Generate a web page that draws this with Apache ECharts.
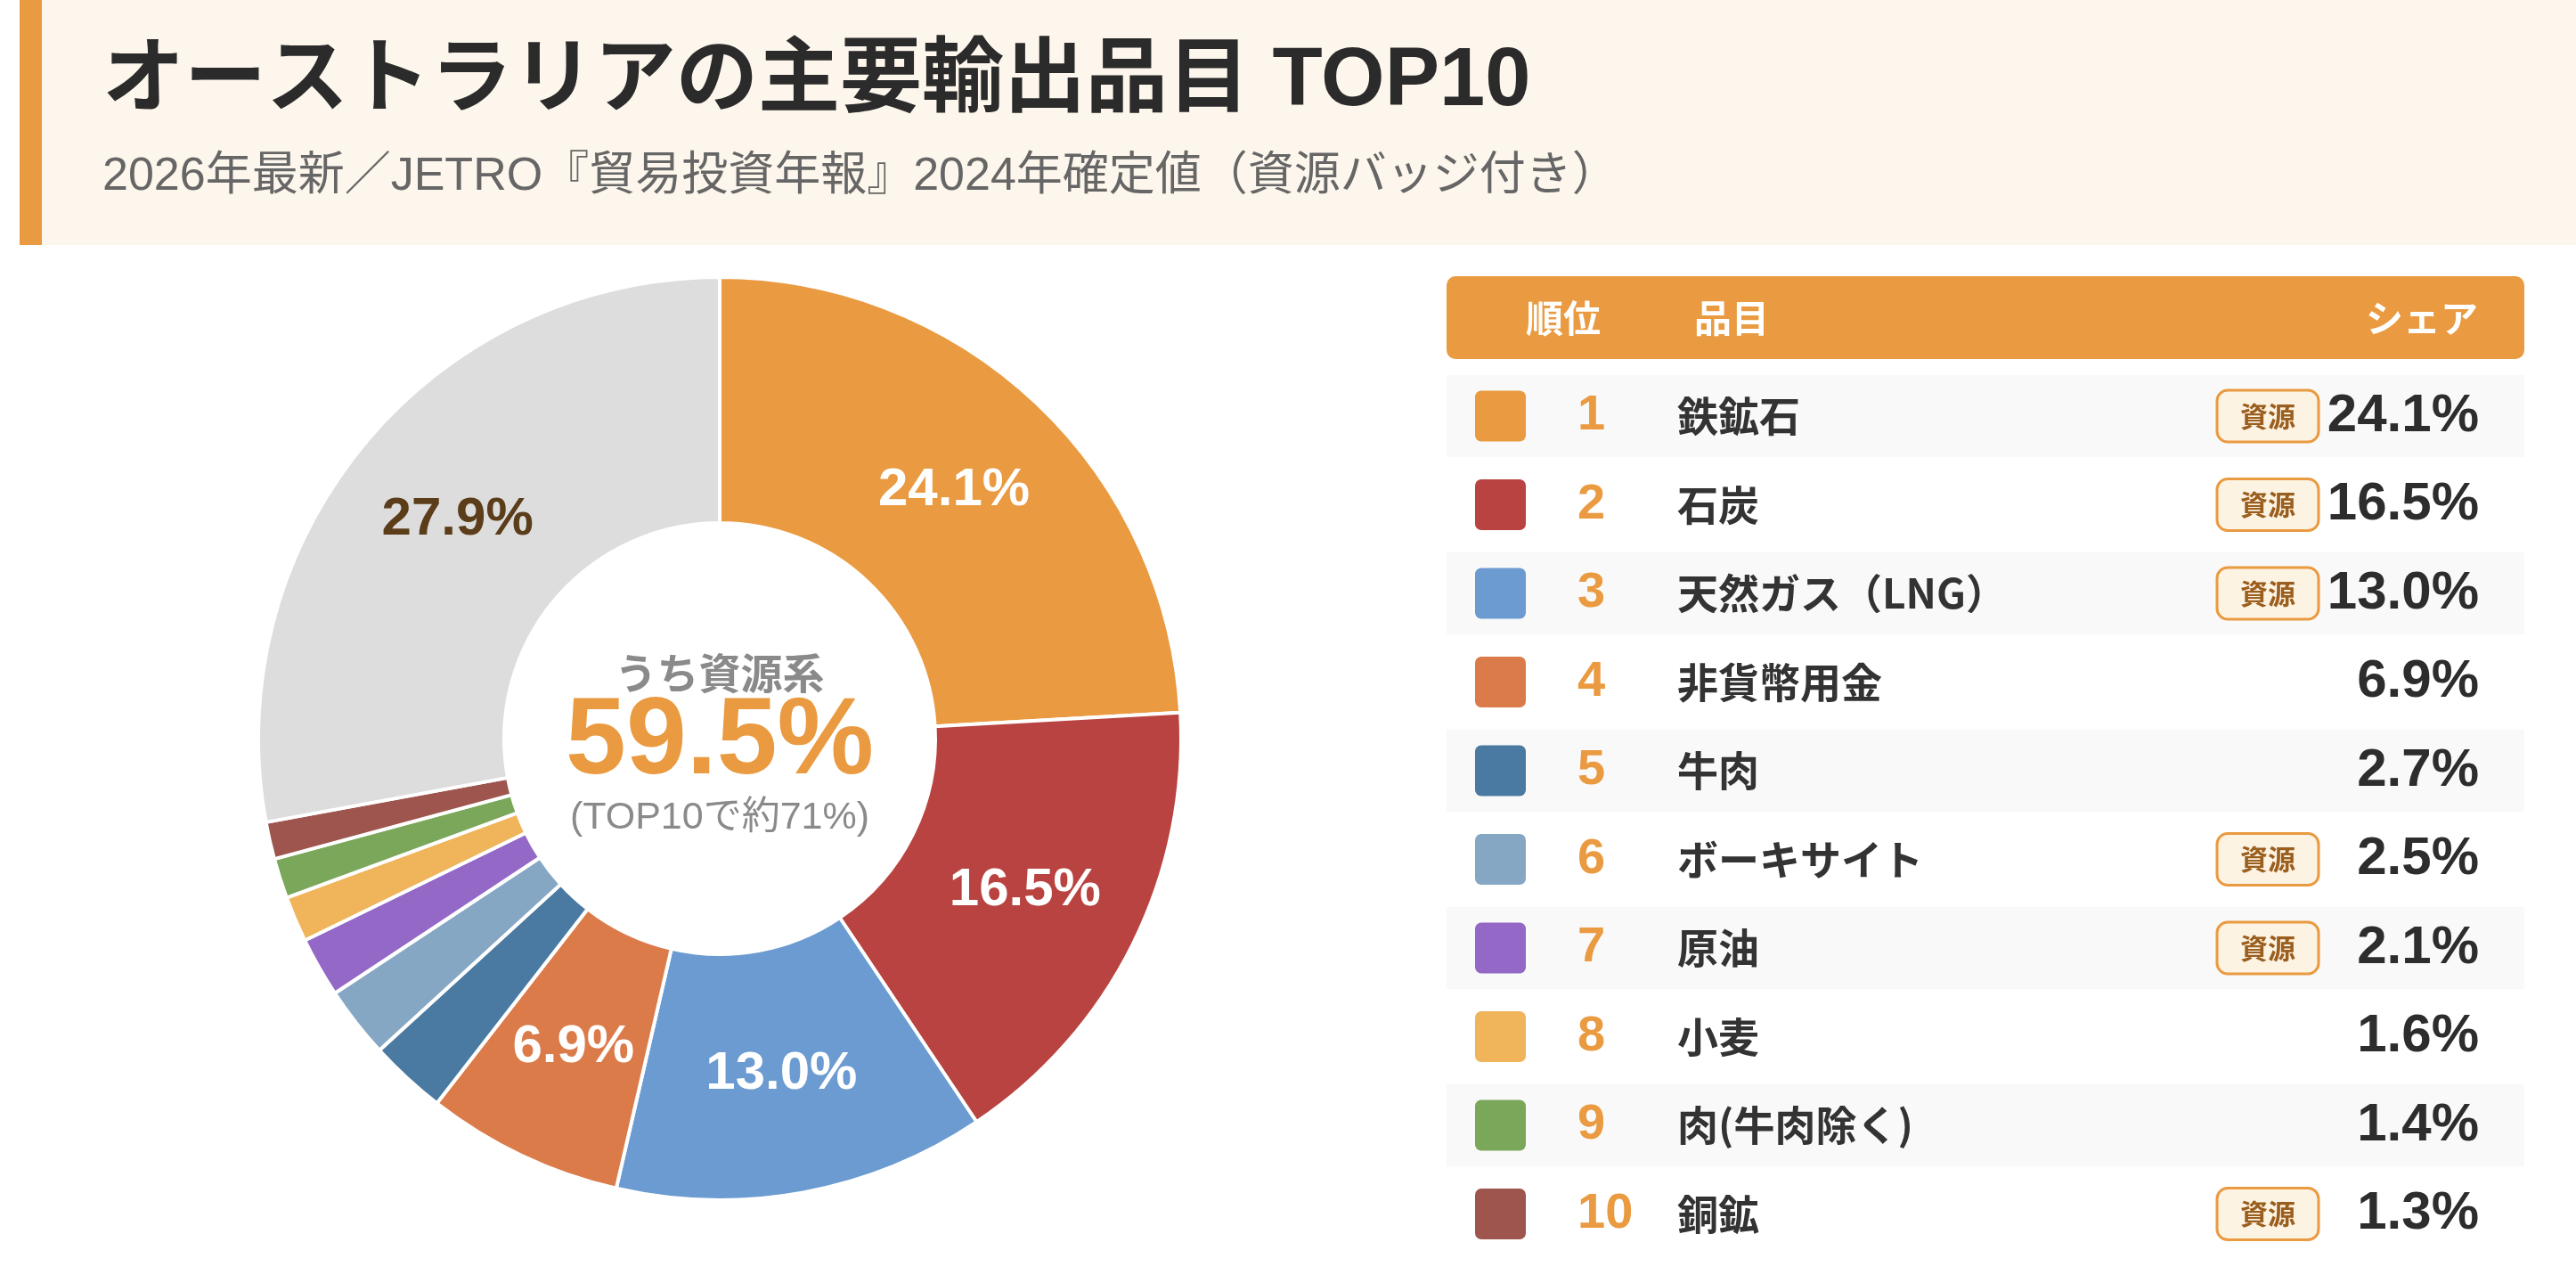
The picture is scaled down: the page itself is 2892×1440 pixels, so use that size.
<!DOCTYPE html>
<html>
<head>
    <meta charset="utf-8">
    <title>オーストラリアの主要輸出品目 TOP10</title>
    <script src="https://cdn.jsdelivr.net/npm/echarts@6/dist/echarts.min.js"></script>
    <style>
        html, body { margin: 0; padding: 0; background: #fff; }
    </style>
</head>
<body>
    <div id="container" style="width: 2892px;height:1440px;"></div>
    <script type="text/javascript">
        // データ（JETRO 2024年確定値）
        var categories = ['鉄鉱石', '石炭', '天然ガス（LNG）', '非貨幣用金', '牛肉', 'ボーキサイト', '原油', '小麦', '肉(牛肉除く)', '銅鉱', 'その他'];
        var shares = [24.1, 16.5, 13.0, 6.9, 2.7, 2.5, 2.1, 1.6, 1.4, 1.3, 27.9];
        var isResource = [true, true, true, false, false, true, true, false, false, true];
        var colors = ['#EA9A40', '#B94340', '#6B9BD1', '#DB7B4A', '#4A7AA2', '#86A7C4', '#9368C6', '#F0B45A', '#7BA75A', '#9E554D', '#DDDDDD'];
        var headerLabels = ['順位', '品目', 'シェア'];
        var centerTexts = ['うち資源系', '59.5%', '(TOP10で約71%)'];
        var titleText = 'オーストラリアの主要輸出品目 TOP10';
        var subText = '2026年最新／JETRO『貿易投資年報』2024年確定値（資源バッジ付き）';

        var JP = '"Noto Sans CJK JP", sans-serif';
        var MIX = '"Liberation Sans", "Noto Sans CJK JP", sans-serif';   // 英数字はLiberation、和文はNoto
        var NUM = '"Liberation Sans", Arial, sans-serif';
        var ORANGE = '#EA9A40';

        var myChart = echarts.init(document.getElementById('container'));

        var pieData = categories.map(function (name, i) {
            var item = { name: name, value: shares[i], itemStyle: { color: colors[i] } };
            if (i === categories.length - 1) {
                item.label = { color: '#5B3D1A' };
            }
            return item;
        });

        // ヘッダー帯と表は graphic で組む
        var graphics = [
            { type: 'rect', shape: { x: 22, y: 0, width: 2870, height: 275 }, style: { fill: '#FDF6EC' }, silent: true },
            { type: 'rect', shape: { x: 22, y: 0, width: 25, height: 275 }, style: { fill: ORANGE }, silent: true },
            { type: 'text', style: { text: titleText, x: 115, y: 93, font: 'bold 92px ' + MIX, fill: '#2B2B2B', textAlign: 'left', textVerticalAlign: 'middle' } },
            { type: 'text', style: { text: subText, x: 115, y: 199, font: '52px ' + MIX, fill: '#666666', textAlign: 'left', textVerticalAlign: 'middle' } },
            // 中央テキスト
            { type: 'text', style: { text: centerTexts[0], x: 808, y: 755, font: 'bold 47px ' + JP, fill: '#8A8A8A', textAlign: 'center', textVerticalAlign: 'middle' } },
            { type: 'text', style: { text: centerTexts[1], x: 808, y: 834, font: 'bold 122px ' + NUM, fill: ORANGE, textAlign: 'center', textVerticalAlign: 'middle' } },
            { type: 'text', style: { text: centerTexts[2], x: 808, y: 918, font: '43px ' + MIX, fill: '#8A8A8A', textAlign: 'center', textVerticalAlign: 'middle' } },
            // 表ヘッダー
            { type: 'rect', shape: { x: 1624, y: 310, width: 1210, height: 93, r: 10 }, style: { fill: ORANGE } },
            { type: 'text', style: { text: headerLabels[0], x: 1713, y: 357, font: 'bold 42px ' + JP, fill: '#fff', textAlign: 'left', textVerticalAlign: 'middle' } },
            { type: 'text', style: { text: headerLabels[1], x: 1902, y: 357, font: 'bold 42px ' + JP, fill: '#fff', textAlign: 'left', textVerticalAlign: 'middle' } },
            { type: 'text', style: { text: headerLabels[2], x: 2782, y: 357, font: 'bold 42px ' + JP, fill: '#fff', textAlign: 'right', textVerticalAlign: 'middle' } }
        ];

        var rowTop = 421, rowH = 92, rowPitch = 99.5;
        for (var i = 0; i < 10; i++) {
            var cy = rowTop + i * rowPitch + rowH / 2;
            if (i % 2 === 0) {
                graphics.push({ type: 'rect', shape: { x: 1624, y: rowTop + i * rowPitch, width: 1210, height: rowH }, style: { fill: '#F9F9F9' } });
            }
            graphics.push({ type: 'rect', shape: { x: 1656, y: cy - 28.5, width: 57, height: 57, r: 7 }, style: { fill: colors[i] } });
            graphics.push({ type: 'text', style: { text: String(i + 1), x: 1771, y: cy, font: 'bold 56px ' + NUM, fill: ORANGE, textAlign: 'left', textVerticalAlign: 'middle' } });
            graphics.push({ type: 'text', style: { text: categories[i], x: 1883, y: cy, font: 'bold 46px ' + JP, fill: '#333333', textAlign: 'left', textVerticalAlign: 'middle' } });
            if (isResource[i]) {
                graphics.push({ type: 'rect', shape: { x: 2489, y: cy - 29, width: 114, height: 58, r: 12 }, style: { fill: '#FDF3E3', stroke: ORANGE, lineWidth: 3 } });
                graphics.push({ type: 'text', style: { text: '資源', x: 2546, y: cy, font: 'bold 31px ' + JP, fill: '#9A5E1E', textAlign: 'center', textVerticalAlign: 'middle' } });
            }
            graphics.push({ type: 'text', style: { text: shares[i].toFixed(1) + '%', x: 2783, y: cy, font: 'bold 60px ' + NUM, fill: '#2D2D2D', textAlign: 'right', textVerticalAlign: 'middle' } });
        }

        var option = {
            animation: false,
            backgroundColor: '#fff',
            graphic: graphics,
            series: [
                {
                    type: 'pie',
                    center: [808, 829],
                    radius: [242, 518],
                    startAngle: 90,
                    clockwise: true,
                    avoidLabelOverlap: false,
                    silent: true,
                    itemStyle: { borderColor: '#fff', borderWidth: 4 },
                    label: {
                        show: true,
                        position: 'inside',
                        color: '#fff',
                        fontFamily: NUM,
                        fontWeight: 'bold',
                        fontSize: 60,
                        formatter: function (p) {
                            return p.value >= 5 ? p.value.toFixed(1) + '%' : '';
                        }
                    },
                    labelLine: { show: false },
                    data: pieData
                }
            ]
        };

        myChart.setOption(option);
    </script>
</body>
</html>
